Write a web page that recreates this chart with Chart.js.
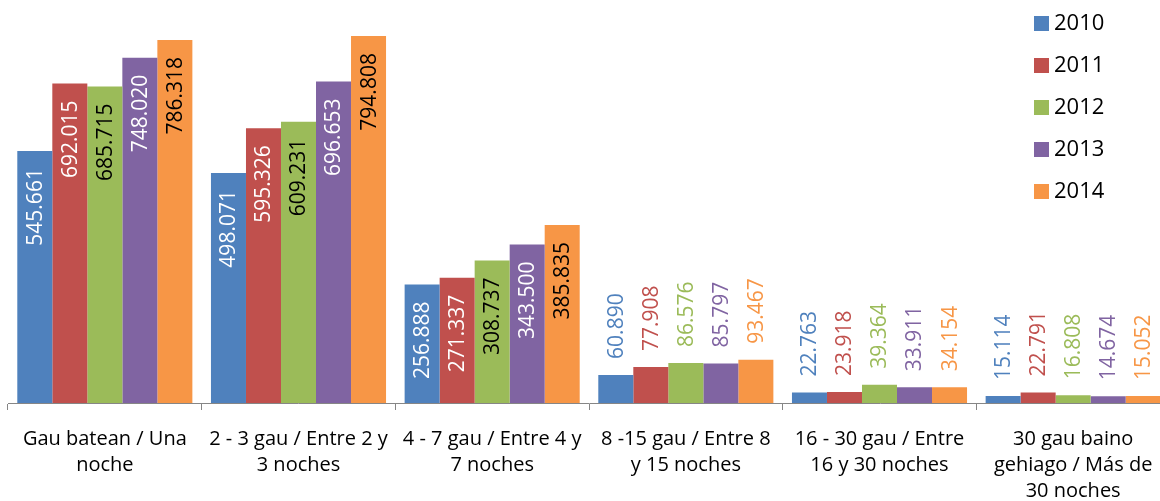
<!DOCTYPE html>
<html>
<head>
<meta charset="utf-8">
<script src="https://cdn.jsdelivr.net/npm/chart.js@4.4.1/dist/chart.umd.min.js"></script>
<style>
  html, body { margin: 0; padding: 0; background: #fff; overflow: hidden; }
  #wrap { width: 1170px; height: 501px; }
</style>
</head>
<body>
<div id="wrap"><canvas id="myChart" width="1170" height="501"></canvas></div>
<script>
// categories (already wrapped like the original)
const categories = [
  ['Gau batean / Una', 'noche'],
  ['2 - 3 gau / Entre 2 y', '3 noches'],
  ['4 - 7 gau / Entre 4 y', '7 noches'],
  ['8 -15 gau / Entre 8', 'y 15 noches'],
  ['16 - 30 gau / Entre', '16 y 30 noches'],
  ['30 gau baino', 'gehiago / Más de', '30 noches']
];

const years = ['2010', '2011', '2012', '2013', '2014'];

const v2010 = [545661, 498071, 256888, 60890, 22763, 15114];
const v2011 = [692015, 595326, 271337, 77908, 23918, 22791];
const v2012 = [685715, 609231, 308737, 86576, 39364, 16808];
const v2013 = [748020, 696653, 343500, 85797, 33911, 14674];
const v2014 = [786318, 794808, 385835, 93467, 34154, 15052];

const colors = ['#4F81BD', '#C0504D', '#9BBB59', '#8064A2', '#F79646'];
const insideText = ['#ffffff', '#ffffff', '#000000', '#ffffff', '#000000'];

const FONT = "'Open Sans', 'Liberation Sans', sans-serif";

const fmt = v => Math.floor(v / 1000) + '.' + String(v % 1000).padStart(3, '0');

const series = [v2010, v2011, v2012, v2013, v2014];

// value labels, turned on their side like in Excel
const barLabels = {
  id: 'barLabels',
  afterDatasetsDraw(chart) {
    const ctx = chart.ctx;
    ctx.save();
    ctx.font = '21px ' + FONT;
    ctx.textBaseline = 'middle';
    chart.data.datasets.forEach((ds, i) => {
      const meta = chart.getDatasetMeta(i);
      meta.data.forEach((bar, j) => {
        const v = ds.data[j];
        const txt = fmt(v);
        ctx.save();
        if (v > 200000) {
          ctx.translate(bar.x, bar.y + 17);
          ctx.rotate(-Math.PI / 2);
          ctx.textAlign = 'right';
          ctx.fillStyle = insideText[i];
        } else {
          ctx.translate(bar.x, bar.y - 16);
          ctx.rotate(-Math.PI / 2);
          ctx.textAlign = 'left';
          ctx.fillStyle = colors[i];
        }
        ctx.fillText(txt, 0, 1);
        ctx.restore();
      });
    });
    ctx.restore();
  }
};

// legend sits over the plot at the top right
const sideLegend = {
  id: 'sideLegend',
  afterDraw(chart) {
    const ctx = chart.ctx;
    ctx.save();
    ctx.font = '22px ' + FONT;
    ctx.textBaseline = 'middle';
    ctx.textAlign = 'left';
    years.forEach((y, i) => {
      const top = 16 + i * 42;
      ctx.fillStyle = colors[i];
      ctx.fillRect(1034, top, 15, 15);
      ctx.fillStyle = '#000';
      ctx.fillText(y, 1054, top + 8);
    });
    ctx.restore();
  }
};

const ctx = document.getElementById('myChart');

new Chart(ctx, {
  type: 'bar',
  data: {
    labels: categories,
    datasets: series.map((d, i) => ({
      label: years[i],
      data: d,
      backgroundColor: colors[i],
      borderWidth: 0,
      categoryPercentage: 0.904,
      barPercentage: 1.0
    }))
  },
  options: {
    responsive: false,
    animation: false,
    layout: { padding: { left: 8, right: 0, top: 0, bottom: 0 } },
    plugins: {
      legend: { display: false },
      tooltip: { enabled: false }
    },
    scales: {
      x: {
        afterFit: s => { s.height = 98; },
        border: { display: true, color: '#868686', width: 1 },
        grid: {
          offset: true,
          drawOnChartArea: false,
          drawTicks: true,
          tickLength: 7,
          color: '#868686'
        },
        ticks: {
          autoSkip: false,
          maxRotation: 0,
          minRotation: 0,
          padding: 16,
          color: '#000',
          font: { family: FONT, size: 20, lineHeight: 1.3 }
        }
      },
      y: {
        display: false,
        min: 0,
        max: 873000
      }
    }
  },
  plugins: [barLabels, sideLegend]
});
</script>
</body>
</html>
